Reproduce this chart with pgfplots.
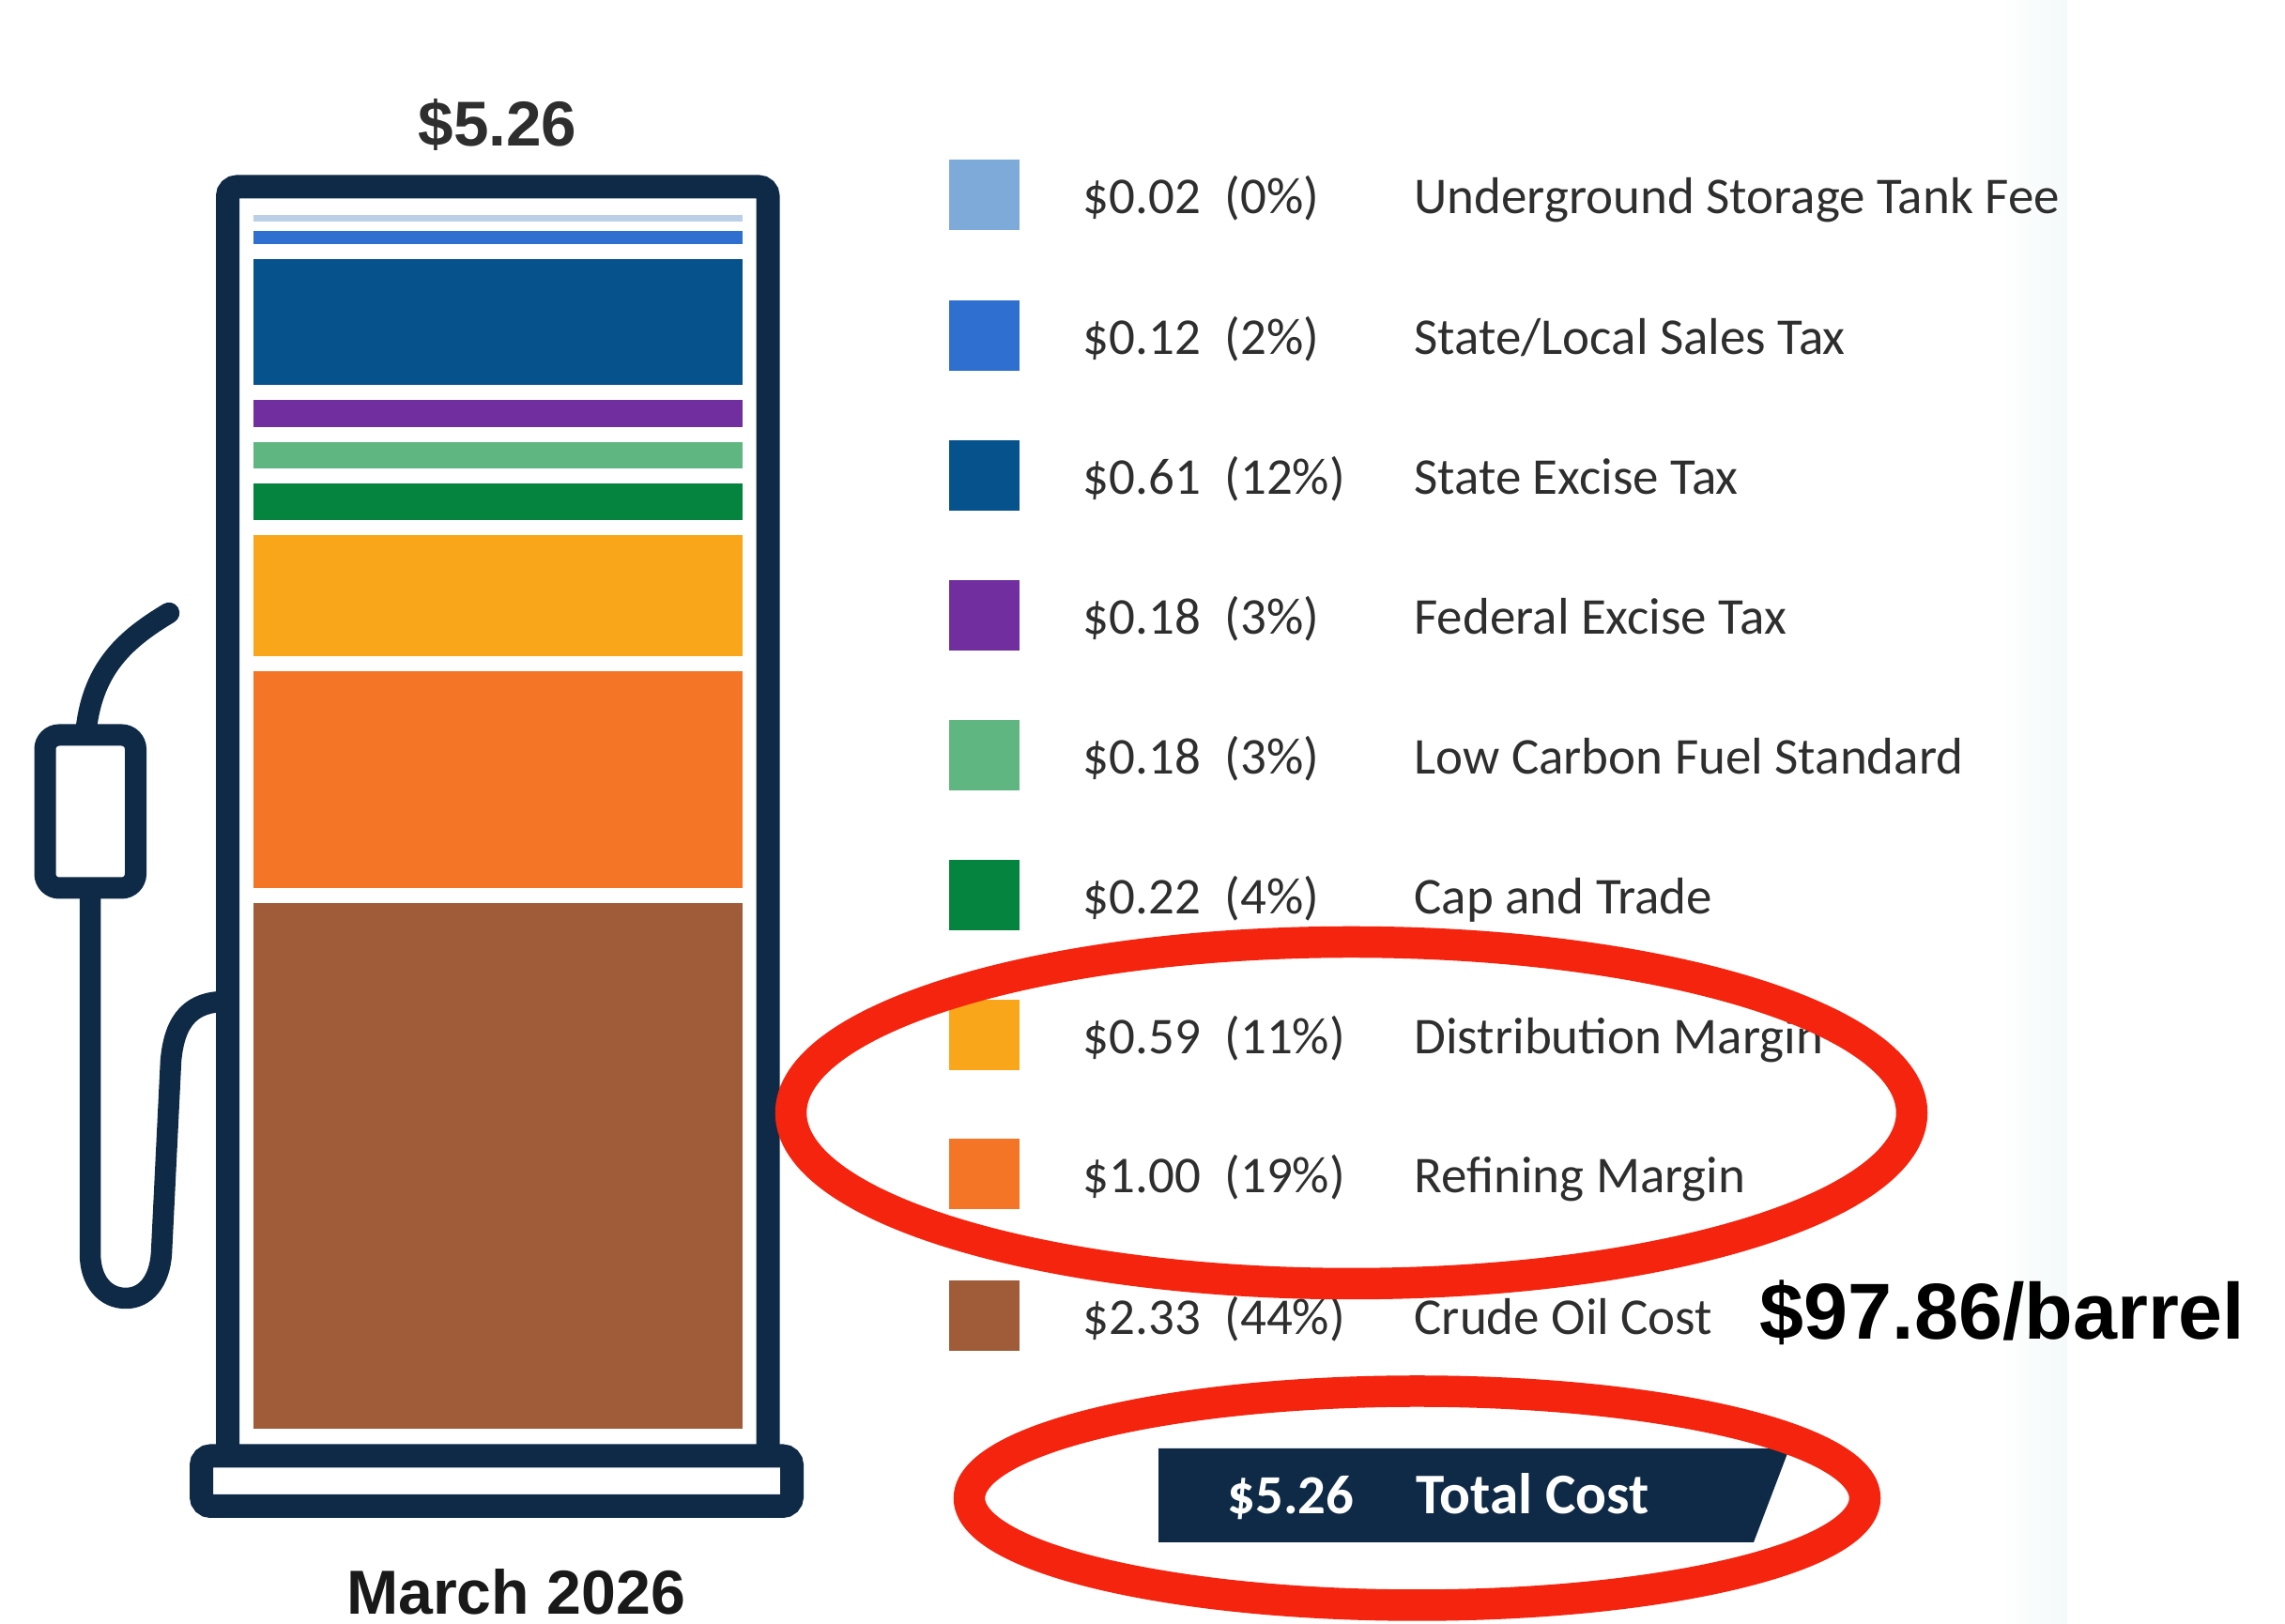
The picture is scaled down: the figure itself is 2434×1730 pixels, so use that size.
\documentclass[border=0pt]{standalone}
\usepackage{pgfplots}
\pgfplotsset{compat=1.18}
\usepackage{fontspec}
\setmainfont{Liberation Sans}
\newfontfamily\lgd{Carlito}
\definecolor{navy}{HTML}{0F2A47}
\definecolor{cust}{HTML}{7DAAD8}
\definecolor{custbar}{HTML}{BBCFE6}
\definecolor{csales}{HTML}{2E6FCF}
\definecolor{cexcise}{HTML}{05528C}
\definecolor{cfed}{HTML}{702E9E}
\definecolor{clcfs}{HTML}{5FB680}
\definecolor{ccap}{HTML}{05843F}
\definecolor{cdist}{HTML}{F9A61A}
\definecolor{cref}{HTML}{F57527}
\definecolor{ccrude}{HTML}{A05C38}
\definecolor{cred}{HTML}{F5240E}
\definecolor{txt}{HTML}{2E2E2E}
\definecolor{band}{HTML}{F4F9F9}
\newcommand{\row}[6]{%
  \fill[#2] (1011,#1-37.5) rectangle (1086,#1+37.5);
  \node[anchor=base west,inner sep=0pt,text=txt] at (1153,#1+20) {\lgd\fontsize{22}{22}\selectfont #3};
  \node[anchor=base west,inner sep=0pt,text=txt] at (1304,#1+20) {\lgd\fontsize{22}{22}\selectfont #4};
  \node[anchor=base west,inner sep=0pt,text=txt] at (1506,#1+20) {\lgd\fontsize{22}{22}\selectfont #5};
}
\begin{document}
\begin{tikzpicture}
\begin{axis}[
  at={(0,0)}, anchor=south west,
  scale only axis, width=973.6pt, height=692pt,
  hide axis, clip=false,
  xmin=0, xmax=2434, ymin=-0.8097, ymax=6.1943,
  ybar stacked, bar width=537, reverse stacked plots=false,
]
\addplot[fill=ccrude,draw=white,line width=6.4pt] coordinates {(530.5,2.33)};
\addplot[fill=cref,draw=white,line width=6.4pt] coordinates {(530.5,1.00)};
\addplot[fill=cdist,draw=white,line width=6.4pt] coordinates {(530.5,0.59)};
\addplot[fill=ccap,draw=white,line width=6.4pt] coordinates {(530.5,0.22)};
\addplot[fill=clcfs,draw=white,line width=6.4pt] coordinates {(530.5,0.18)};
\addplot[fill=cfed,draw=white,line width=6.4pt] coordinates {(530.5,0.18)};
\addplot[fill=cexcise,draw=white,line width=6.4pt] coordinates {(530.5,0.61)};
\addplot[fill=csales,draw=white,line width=6.4pt] coordinates {(530.5,0.12)};
\addplot[fill=custbar,draw=custbar,line width=1pt,bar width=519,yshift=1.2pt] coordinates {(530.5,0.02)};
\end{axis}
\begin{scope}[x=0.4pt,y=-0.4pt,yshift=692pt]
  \path (0,0) rectangle (2434,1730);
  % faint band
  \shade[left color=white,right color=band] (2130,0) rectangle (2202,1730);
  % pump frame
  \draw[navy,line width=10pt,rounded corners=4pt] (242.5,1545) -- (242.5,199) -- (818,199) -- (818,1545);
  \draw[navy,line width=10pt,rounded corners=4pt] (214.5,1551) rectangle (843.5,1604.5);
  % nozzle
  \draw[navy,line width=9.2pt,rounded corners=6pt] (48,783) rectangle (144.5,946);
  \draw[navy,line width=9pt,line cap=round] (92,775) .. controls (100,710) and (135,680) .. (180,653);
  \draw[navy,line width=9pt] (96,950) -- (96,1335) .. controls (96,1365) and (112,1383) .. (134,1383)
     .. controls (155,1383) and (170,1365) .. (172,1335) -- (182,1130) .. controls (186,1085) and (205,1067) .. (240,1067);
  % titles
  \node[text=txt,inner sep=0pt] at (530,133) {\bfseries\fontsize{27}{27}\selectfont \$5.26};
  \node[text=black!90,inner sep=0pt] at (549.5,1696) {\bfseries\fontsize{26.5}{26.5}\selectfont March 2026};
  % legend rows
  \row{208}{cust}{\$0.02}{(0\%)}{Underground Storage Tank Fee}{}
  \row{357.5}{csales}{\$0.12}{(2\%)}{State/Local Sales Tax}{}
  \row{507}{cexcise}{\$0.61}{(12\%)}{State Excise Tax}{}
  \row{655.5}{cfed}{\$0.18}{(3\%)}{Federal Excise Tax}{}
  \row{804.5}{clcfs}{\$0.18}{(3\%)}{Low Carbon Fuel Standard}{}
  \row{953.5}{ccap}{\$0.22}{(4\%)}{Cap and Trade}{}
  \row{1103}{cdist}{\$0.59}{(11\%)}{Distribution Margin}{}
  \row{1251}{cref}{\$1.00}{(19\%)}{Refining Margin}{}
  \row{1401.5}{ccrude}{\$2.33}{(44\%)}{Crude Oil Cost}{}
  % total banner
  \fill[navy] (1234,1543) -- (1906,1543) -- (1868,1643) -- (1234,1643) -- cycle;
  \node[anchor=base west,inner sep=0pt,text=white] at (1307,1613) {\lgd\bfseries\fontsize{23.5}{23.5}\selectfont \$5.26};
  \node[anchor=base west,inner sep=0pt,text=white] at (1508,1613) {\lgd\bfseries\fontsize{24.5}{24.5}\selectfont Total Cost};
  % red ellipses
  \draw[cred,line width=13.4pt] (1439.5,1185.5) ellipse [x radius=597,y radius=182];
  \draw[cred,line width=13.4pt] (1509.5,1596) ellipse [x radius=477,y radius=114];
  \node[text=black,inner sep=0pt] at (2133,1398) {\bfseries\fontsize{33.8}{33.8}\selectfont \$97.86/barrel};
\end{scope}
\end{tikzpicture}
\end{document}
